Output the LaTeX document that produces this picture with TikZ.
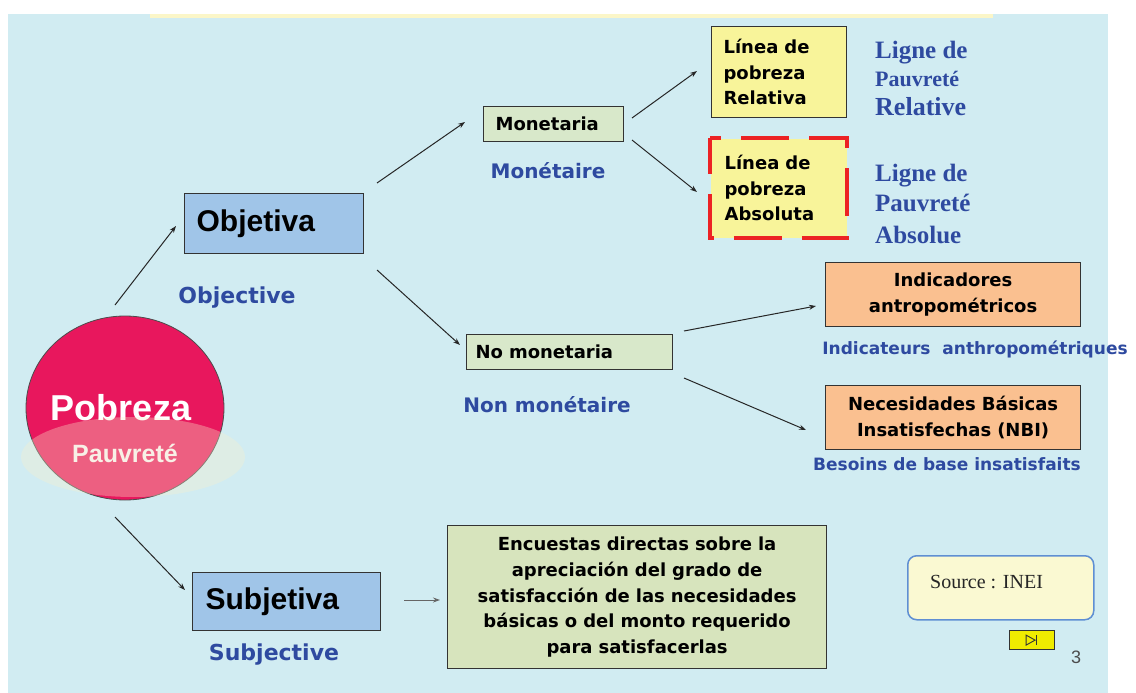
\documentclass[tikz,border=0pt]{standalone}
\usepackage{fontspec}
\setmainfont{Liberation Sans}
\newfontfamily\dvs{DejaVu Sans}
\newfontfamily\lsans{Liberation Sans}
\newfontfamily\lserif{Liberation Serif}
\usetikzlibrary{shapes.geometric,arrows.meta}
\definecolor{bgblue}{RGB}{209,236,242}
\definecolor{stripy}{RGB}{251,246,200}
\definecolor{boxblue}{RGB}{160,197,232}
\definecolor{boxgreen}{RGB}{216,232,202}
\definecolor{boxyellow}{RGB}{248,244,154}
\definecolor{boxorange}{RGB}{250,192,144}
\definecolor{encgreen}{RGB}{215,228,189}
\definecolor{labblue}{RGB}{46,74,160}
\definecolor{pobreza}{RGB}{232,23,93}
\definecolor{srcfill}{RGB}{250,249,210}
\definecolor{srcline}{RGB}{95,143,211}
\definecolor{btnyellow}{RGB}{240,236,0}
\definecolor{dashred}{RGB}{236,34,36}
\tikzset{
  box/.style={draw=black!80, line width=1.2pt, anchor=north west, inner ysep=0pt},
  bigbox/.style={box, fill=boxblue, align=left, font=\lsans\bfseries\fontsize{30}{34}\selectfont},
  smallbox/.style={box, fill=boxgreen, align=left, font=\dvs\bfseries\fontsize{18}{25}\selectfont},
  linebox/.style={box, fill=boxyellow, align=left, font=\dvs\bfseries\fontsize{18}{25.5}\selectfont},
  orbox/.style={box, fill=boxorange, align=center, inner xsep=4pt, font=\dvs\bfseries\fontsize{18}{25.5}\selectfont},
  blab/.style={text=labblue, font=\dvs\bfseries\fontsize{22}{26}\selectfont},
  mlab/.style={text=labblue, font=\dvs\bfseries\fontsize{20}{24}\selectfont},
  slab/.style={text=labblue, font=\dvs\bfseries\fontsize{17}{20}\selectfont},
  serlab/.style={text=labblue, anchor=base west, inner sep=0pt},
  arr/.style={draw=black!85, line width=1pt, -{Stealth[length=7pt,width=5pt]}},
}
\begin{document}
\begin{tikzpicture}[x=1pt,y=-1pt]
\useasboundingbox (0,0) rectangle (1136,693);
\fill[white] (0,0) rectangle (1136,693);
\fill[bgblue] (8,14) rectangle (1108,693);
\fill[stripy] (150,14) rectangle (993,18);

% Pobreza circle
\node[ellipse, draw=black!70, line width=0.8pt, fill=pobreza, minimum width=198pt, minimum height=184pt, inner sep=0pt,
      text=white, font=\lsans\bfseries\fontsize{36}{40}\selectfont] (pob) at (125,408) {\hspace*{-8pt}\makebox[0pt]{Pobreza}};
\fill[fill={rgb,255:red,250;green,242;blue,205}, fill opacity=0.33] (133,457) ellipse [x radius=112pt, y radius=40pt];
\node[text={rgb,255:red,248;green,240;blue,230}, font=\lsans\bfseries\fontsize{25}{28}\selectfont] (pau) at (125,453) {Pauvreté};

% main boxes
\node[bigbox, text width=155pt, inner xsep=12pt, minimum height=60pt] (obj) at (184,193) {Objetiva};
\node[bigbox, text width=162pt, inner xsep=13pt, minimum height=58pt] (subj) at (192,572) {Subjetiva};
\node[blab] (objl) at (237,298) {Objective};
\node[blab] (subjl) at (274,655) {Subjective};

\node[smallbox, text width=116pt, inner xsep=12pt, minimum height=35pt] (mon) at (483,106) {Monetaria};
\node[smallbox, text width=188pt, inner xsep=9pt, minimum height=35pt] (nomon) at (466,334) {No monetaria};
\node[mlab] (monl) at (548,171) {Monétaire};
\node[mlab] (nomonl) at (547,405) {Non monétaire};

\node[linebox, text width=111pt, inner xsep=12pt, minimum height=91pt] (rel) at (711,26) {Línea de\\pobreza\\Relativa};
\node[linebox, draw=none, text width=108pt, inner xsep=14pt, minimum height=99pt] (abs) at (710,138) {Línea de\\pobreza\\Absoluta};
\draw[dashred, line width=4.5pt, dash pattern=on 48pt off 20pt, dash phase=12pt] (abs.north west) rectangle (abs.south east);

\node[serlab, font=\lserif\bfseries\fontsize{25}{28}\selectfont] (rl1) at (875,59) {Ligne de};
\node[serlab, font=\lserif\bfseries\fontsize{22}{26}\selectfont] (rl2) at (875,87) {Pauvreté};
\node[serlab, font=\lserif\bfseries\fontsize{26}{28}\selectfont] (rl3) at (875,115) {Relative};
\node[serlab, font=\lserif\bfseries\fontsize{25}{28}\selectfont] (al1) at (875,181) {Ligne de};
\node[serlab, font=\lserif\bfseries\fontsize{25}{28}\selectfont] (al2) at (875,211) {Pauvreté};
\node[serlab, font=\lserif\bfseries\fontsize{25}{28}\selectfont] (al3) at (875,243) {Absolue};

\node[orbox, text width=247pt, minimum height=64pt] (ind) at (825,262) {Indicadores\\antropométricos};
\node[orbox, text width=247pt, minimum height=64pt] (nbi) at (825,385) {Necesidades Básicas\\Insatisfechas (NBI)};
\node[slab] (indl) at (975,349) {Indicateurs\ \ anthropométriques};
\node[slab] (nbil) at (947,464) {Besoins de base insatisfaits};

\node[box, fill=encgreen, align=center, text width=371pt, inner xsep=4pt, minimum height=143pt,
      font=\dvs\bfseries\fontsize{18}{25.7}\selectfont] (enc) at (447,525)
  {Encuestas directas sobre la\\apreciación del grado de\\satisfacción de las necesidades\\básicas o del monto requerido\\para satisfacerlas};

% source box and button
\node[anchor=north west, draw=srcline, line width=1.5pt, fill=srcfill, rounded corners=9pt,
      minimum width=186pt, minimum height=64pt] (src) at (907,555) {};
\node[anchor=base west, inner sep=0pt, text=black!85, font=\lserif\fontsize{20}{24}\selectfont] (srct) at (930,588) {Source : INEI};
\node[anchor=north west, draw=black!80, line width=1.2pt, fill=btnyellow, minimum width=45pt, minimum height=19pt, inner sep=0pt] (btn) at (1009,630) {};
\draw[black!80, line width=0.9pt] ([xshift=-6pt,yshift=5pt]btn.center) -- ([xshift=-6pt,yshift=-5pt]btn.center) -- ([xshift=3pt]btn.center) -- cycle;
\draw[black!80, line width=1.2pt] ([xshift=4pt,yshift=5pt]btn.center) -- ([xshift=4pt,yshift=-5pt]btn.center);
\node[text=black!70, font=\lsans\fontsize{18}{20}\selectfont] (pg) at (1076,657) {3};

% connectors
\coordinate (a1s) at (115,305); \coordinate (a1e) at (176,226);
\coordinate (a2s) at (115,517); \coordinate (a2e) at (185,590);
\coordinate (a3s) at (377,183); \coordinate (a3e) at (465,122);
\coordinate (a4s) at (377,270); \coordinate (a4e) at (460,345);
\coordinate (a5s) at (632,118); \coordinate (a5e) at (697,71);
\coordinate (a6s) at (632,140); \coordinate (a6e) at (697,192);
\coordinate (a7s) at (684,331); \coordinate (a7e) at (816,306);
\coordinate (a8s) at (684,378); \coordinate (a8e) at (806,430);
\coordinate (a9s) at (404,600); \coordinate (a9e) at (440,600);
\draw[arr] (a1s) -- (a1e);
\draw[arr] (a2s) -- (a2e);
\draw[arr] (a3s) -- (a3e);
\draw[arr] (a4s) -- (a4e);
\draw[arr] (a5s) -- (a5e);
\draw[arr] (a6s) -- (a6e);
\draw[arr] (a7s) -- (a7e);
\draw[arr] (a8s) -- (a8e);
\draw[arr, draw=black!60] (a9s) -- (a9e);
\end{tikzpicture}
\end{document}
